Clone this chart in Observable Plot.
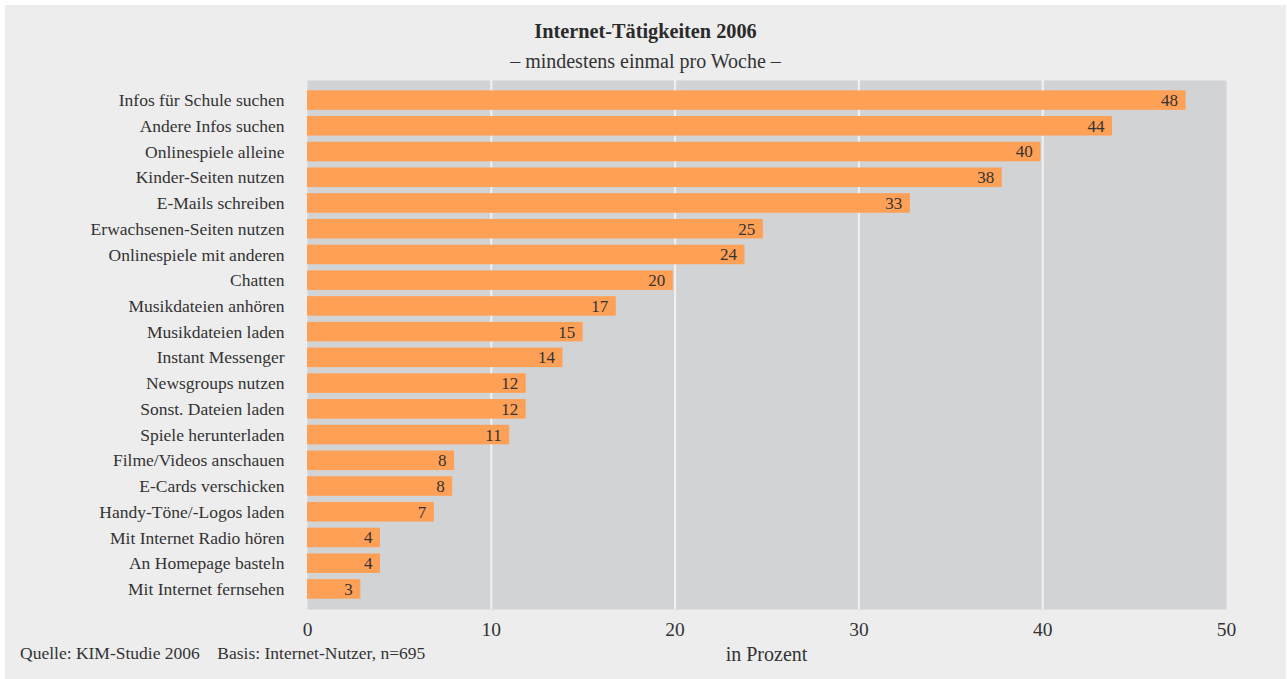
<!DOCTYPE html>
<html>
<head>
<meta charset="utf-8">
<script src="https://cdn.jsdelivr.net/npm/d3@7"></script>
<script src="https://cdn.jsdelivr.net/npm/@observablehq/plot@0.6"></script>
<style>
  html, body { margin: 0; padding: 0; background: #ffffff; width: 1287px; height: 679px; overflow: hidden; }
  #bg { position: absolute; left: 5px; top: 5px; width: 1281px; height: 674px; background: #ededed; }
  #chart { position: absolute; left: 0; top: 0; }
  .txt { position: absolute; font-family: "Liberation Serif", serif; color: #333333; white-space: nowrap; line-height: 1; }
  #title { left: 5px; width: 1281px; top: 21px; text-align: center; font-size: 20.3px; font-weight: bold; color: #2a2a2a; }
  #subtitle { left: 5px; width: 1281px; top: 51px; text-align: center; font-size: 20px; }
  #xlabel { left: 307px; width: 919px; top: 644px; text-align: center; font-size: 20px; }
  #source { left: 20px; top: 645px; font-size: 17.5px; }
</style>
</head>
<body>
<div id="bg"></div>
<div id="chart"></div>
<div class="txt" id="title">Internet-Tätigkeiten 2006</div>
<div class="txt" id="subtitle">– mindestens einmal pro Woche –</div>
<div class="txt" id="xlabel">in Prozent</div>
<div class="txt" id="source">Quelle: KIM-Studie 2006&nbsp;&nbsp;&nbsp;&nbsp;Basis: Internet-Nutzer, n=695</div>
<script>
const categories = [
  "Infos für Schule suchen",
  "Andere Infos suchen",
  "Onlinespiele alleine",
  "Kinder-Seiten nutzen",
  "E-Mails schreiben",
  "Erwachsenen-Seiten nutzen",
  "Onlinespiele mit anderen",
  "Chatten",
  "Musikdateien anhören",
  "Musikdateien laden",
  "Instant Messenger",
  "Newsgroups nutzen",
  "Sonst. Dateien laden",
  "Spiele herunterladen",
  "Filme/Videos anschauen",
  "E-Cards verschicken",
  "Handy-Töne/-Logos laden",
  "Mit Internet Radio hören",
  "An Homepage basteln",
  "Mit Internet fernsehen"
];
const values = [47.8, 43.8, 39.9, 37.8, 32.8, 24.8, 23.8, 19.9, 16.8, 15.0, 13.9, 11.9, 11.9, 11.0, 8.0, 7.9, 6.9, 3.97, 3.97, 2.9];
const xTicks = [0, 10, 20, 30, 40, 50];
const gridValues = [10, 20, 30, 40];

const data = categories.map((c, i) => ({label: c, value: values[i]}));
const fmt = d3.format(".0f");

const chart = Plot.plot({
  width: 1287,
  height: 679,
  marginLeft: 307,
  marginRight: 61,
  marginTop: 80,
  marginBottom: 70,
  style: {background: "transparent", fontFamily: "Liberation Serif, serif", color: "#333333"},
  x: {domain: [0, 50], ticks: xTicks, label: null},
  y: {domain: categories, paddingInner: 0.24, paddingOuter: 0.4, round: false, label: null},
  marks: [
    Plot.frame({fill: "#d2d3d5", stroke: null}),
    Plot.ruleX(gridValues, {stroke: "#f2f2f2", strokeWidth: 2}),
    Plot.barX(data, {x: "value", y: "label", fill: "#ffa057"}),
    Plot.text(data, {x: "value", y: "label", text: d => fmt(d.value), textAnchor: "end", dx: -8, fill: "#333333", fontSize: 17}),
    Plot.axisY({tickSize: 0, tickPadding: 23, fontSize: 17.5, label: null}),
    Plot.axisX({ticks: xTicks, tickSize: 0, tickPadding: 13, fontSize: 19.5, label: null})
  ]
});
document.getElementById("chart").appendChild(chart);
</script>
</body>
</html>
